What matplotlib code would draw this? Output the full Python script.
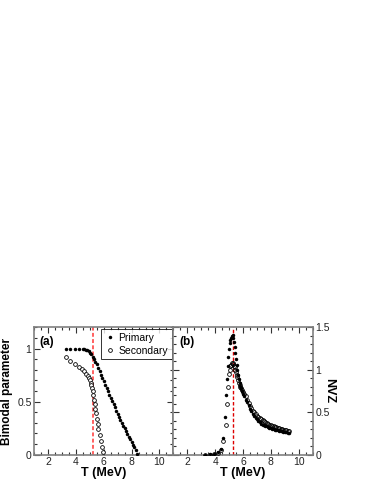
import matplotlib
matplotlib.use("Agg")
import matplotlib.pyplot as plt
from matplotlib.ticker import MultipleLocator

# ---------------- data ----------------
T_crit = 5.25

# (a) Bimodal parameter
a_prim_T = [3.3, 3.6, 3.9, 4.2, 4.5, 4.6, 4.7, 4.8, 4.9, 5.0, 5.1, 5.2, 5.3, 5.4, 5.5,
            5.6, 5.7, 5.8, 5.9, 6.0, 6.1, 6.2, 6.3, 6.4, 6.5, 6.6, 6.7, 6.8, 6.9, 7.0,
            7.1, 7.2, 7.3, 7.4, 7.5, 7.6, 7.7, 7.8, 7.9, 8.0, 8.1, 8.2, 8.3, 8.4]
a_prim_v = [1.0, 1.0, 1.0, 1.0, 0.998, 0.995, 0.99, 0.985, 0.975, 0.96, 0.945, 0.925, 0.90, 0.875, 0.85,
            0.82, 0.785, 0.755, 0.72, 0.69, 0.66, 0.63, 0.60, 0.565, 0.535, 0.505, 0.475, 0.445, 0.41, 0.38,
            0.355, 0.33, 0.30, 0.275, 0.25, 0.22, 0.195, 0.17, 0.145, 0.12, 0.095, 0.07, 0.04, 0.01]

a_sec_T = [3.3, 3.6, 3.9, 4.2, 4.4, 4.6, 4.75, 4.85, 4.95, 5.0, 5.05, 5.1, 5.15, 5.2,
           5.25, 5.3, 5.35, 5.4, 5.45, 5.5, 5.55, 5.6, 5.7, 5.8, 5.9, 5.95]
a_sec_v = [0.92, 0.885, 0.855, 0.83, 0.81, 0.785, 0.76, 0.74, 0.72, 0.70, 0.68, 0.655, 0.63, 0.60,
           0.56, 0.52, 0.48, 0.43, 0.39, 0.34, 0.29, 0.24, 0.19, 0.13, 0.07, 0.03]

# (b) NVZ
b_prim_T = [3.3, 3.6, 3.9, 4.2, 4.4, 4.55, 4.7, 4.8, 4.85, 4.9, 4.95, 5.0, 5.05, 5.1, 5.15,
            5.2, 5.25, 5.3, 5.35, 5.4, 5.45, 5.5, 5.55, 5.6, 5.65, 5.7, 5.75, 5.8, 5.85, 5.9,
            6.0, 6.1, 6.2, 6.3, 6.4, 6.5, 6.6, 6.7, 6.8, 6.9, 7.0, 7.1, 7.2, 7.3, 7.4,
            7.5, 7.6, 7.7, 7.8, 7.9, 8.0, 8.1, 8.2, 8.3, 8.4, 8.5, 8.6, 8.7, 8.8, 8.9,
            9.0, 9.1, 9.2, 9.3]
b_prim_v = [0.0, 0.005, 0.01, 0.03, 0.07, 0.2, 0.45, 0.7, 0.89, 1.05, 1.15, 1.25, 1.31, 1.35, 1.38,
            1.40, 1.41, 1.38, 1.33, 1.27, 1.20, 1.13, 1.06, 1.0, 0.94, 0.89, 0.85, 0.81, 0.78, 0.75,
            0.72, 0.69, 0.65, 0.62, 0.58, 0.54, 0.51, 0.48, 0.455, 0.435, 0.415, 0.395, 0.38, 0.365, 0.355,
            0.345, 0.34, 0.333, 0.326, 0.318, 0.31, 0.305, 0.30, 0.295, 0.29, 0.286, 0.282, 0.278, 0.274, 0.27,
            0.266, 0.262, 0.258, 0.254]

b_sec_T = [3.3, 3.6, 3.9, 4.2, 4.4, 4.6, 4.75, 4.85, 4.9, 5.0, 5.05, 5.1, 5.15, 5.2, 5.25,
           5.3, 5.35, 5.4, 5.45, 5.5, 5.55, 5.6, 5.65, 5.7, 5.75, 5.8, 5.85, 5.9, 6.0, 6.1,
           6.2, 6.3, 6.4, 6.5, 6.6, 6.7, 6.8, 6.9, 7.0, 7.1, 7.2, 7.3, 7.4, 7.5, 7.6,
           7.7, 7.8, 7.9, 8.0, 8.1, 8.2, 8.3, 8.4, 8.5, 8.6, 8.7, 8.8, 8.9, 9.0, 9.1,
           9.2, 9.3]
b_sec_v = [0.0, 0.0, 0.005, 0.02, 0.05, 0.16, 0.35, 0.6, 0.8, 0.95, 1.0, 1.04, 1.06, 1.075, 1.08,
           1.07, 1.05, 1.03, 1.0, 0.97, 0.94, 0.91, 0.88, 0.85, 0.82, 0.80, 0.78, 0.76, 0.735, 0.71,
           0.69, 0.65, 0.61, 0.57, 0.545, 0.52, 0.50, 0.48, 0.46, 0.445, 0.43, 0.415, 0.405, 0.395, 0.385,
           0.375, 0.365, 0.355, 0.348, 0.34, 0.334, 0.328, 0.322, 0.316, 0.31, 0.305, 0.30, 0.296, 0.292, 0.288,
           0.284, 0.28]

x_ticks = [2, 4, 6, 8, 10]

# ---------------- figure ----------------
plt.rcParams['font.family'] = ['Liberation Sans', 'DejaVu Sans']
fig = plt.figure(figsize=(3.74, 4.84), dpi=100)

L, B, W, H = 0.0917, 0.0605, 0.3717, 0.2632
axa = fig.add_axes([L, B, W, H])
axb = fig.add_axes([L + W, B, 0.3727, H])

frame_col = '#808080'
for ax in (axa, axb):
    for s in ax.spines.values():
        s.set_color(frame_col)
        s.set_linewidth(1.2)
    ax.set_xlim(1, 11)
    ax.set_xticks(x_ticks)
    ax.xaxis.set_minor_locator(MultipleLocator(0.5))
    ax.yaxis.set_minor_locator(MultipleLocator(0.1))
    ax.tick_params(which='both', direction='in', top=True, right=True, left=True, bottom=True,
                   colors='#333333', labelcolor='#222222', labelsize=7.5, width=0.8)
    ax.tick_params(which='major', length=4, pad=2)
    ax.tick_params(which='minor', length=2)
    ax.set_xlabel('T (MeV)', fontsize=9, fontweight='bold', labelpad=0)

ms_fill = 2.5
ms_open = 2.7

# (a)
axa.set_ylim(0, 1.2)
axa.set_yticks([0, 0.5, 1])
axa.set_yticklabels(['0', '0.5', '1'])
axa.axvline(T_crit, color='#ff6060', ls='--', lw=1.4, dashes=(2, 1.2), zorder=1)
axa.plot(a_prim_T, a_prim_v, 'o', ms=ms_fill, color='black', mew=0, label='Primary', zorder=3)
axa.plot(a_sec_T, a_sec_v, 'o', ms=ms_open, mfc='white', mec='black', mew=0.6,
         label='Secondary', zorder=3)
axa.set_ylabel('Bimodal parameter', fontsize=8.5, fontweight='bold', labelpad=3)
axa.text(0.04, 0.93, '(a)', transform=axa.transAxes, fontsize=8.5, fontweight='bold', va='top')
leg = axa.legend(loc='upper right', fontsize=7.5, frameon=True, fancybox=False,
                 borderpad=0.35, handletextpad=0.3, handlelength=1.0, labelspacing=0.3,
                 borderaxespad=0.15, markerscale=1.0)
leg.get_frame().set_edgecolor('black')
leg.get_frame().set_linewidth(0.7)

# (b)
axb.set_ylim(0, 1.5)
axb.set_yticks([0, 0.5, 1, 1.5])
axb.set_yticklabels(['0', '0.5', '1', '1.5'])
axb.tick_params(which='both', labelleft=False, labelright=True)
axb.axvline(T_crit, color='#dd0000', ls='--', lw=1.0, dashes=(2.5, 1.5), zorder=1)
axb.plot(b_prim_T, b_prim_v, 'o', ms=ms_fill, color='black', mew=0, zorder=3)
axb.plot(b_sec_T, b_sec_v, 'o', ms=ms_open, mfc='none', mec='black', mew=0.6, zorder=3)
axb.yaxis.set_label_position('right')
axb.set_ylabel('NVZ', fontsize=9, fontweight='bold', rotation=270, labelpad=4)
axb.text(0.04, 0.93, '(b)', transform=axb.transAxes, fontsize=8.5, fontweight='bold', va='top')

fig.savefig('out.png', dpi=100)
